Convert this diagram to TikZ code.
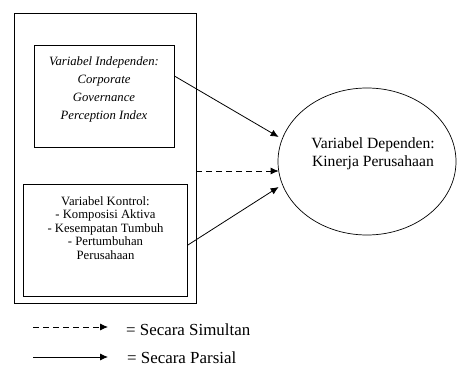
\documentclass[tikz,border=0pt]{standalone}
\usepackage{fontspec}
\setmainfont{Liberation Serif}
\usetikzlibrary{shapes,arrows.meta}
\usetikzlibrary{positioning}
\tikzstyle{frame} = [draw, rectangle, line width=0.8pt, inner sep=0pt]
\tikzstyle{target} = [draw, ellipse, line width=0.7pt, inner sep=0pt]
\tikzstyle{boxtext} = [align=center, inner sep=0pt, font=\fontsize{12.7}{13.5}\selectfont]
\tikzstyle{line} = [draw, line width=0.8pt, -{Latex[length=8pt,width=7pt]}]
\tikzstyle{dashline} = [line, dash pattern=on 6pt off 4pt]
\tikzstyle{legend} = [inner sep=0pt, font=\fontsize{16.9}{18}\selectfont]

\begin{document}
\begin{tikzpicture}[x=1pt, y=-1pt]
\useasboundingbox (0,0) rectangle (457,366);
% Blocks
\node [frame, minimum width=182pt, minimum height=290pt] (group) at (105,158) {};
\node [frame, minimum width=140pt, minimum height=102pt] (indep) at (104,96) {};
\node [frame, minimum width=164pt, minimum height=112pt] (control) at (105.5,240) {};
\node [target, minimum width=178pt, minimum height=147pt] (dep) at (367,161.5) {};

% Texts
\node [boxtext, below=11.5pt of indep.north, font=\itshape\fontsize{12.7}{18}\selectfont] (indeptext) {Variabel Independen:\\ Corporate\\ Governance\\ Perception Index};
\node [boxtext, below=12.7pt of control.north] (controltext) {Variabel Kontrol:\\ - Komposisi Aktiva\\ - Kesempatan Tumbuh\\ - Pertumbuhan\\ Perusahaan};
\node [boxtext, below=49.5pt of dep.north, xshift=6pt, font=\fontsize{15.6}{18.5}\selectfont] (deptext) {Variabel Dependen:\\ Kinerja Perusahaan};

% Connections
\draw [line] ([yshift=20pt]indep.east) -- ([xshift=1pt,yshift=24.5pt]dep.west);
\draw [dashline] ([yshift=-13pt]group.east) -- ([xshift=1pt,yshift=-9.5pt]dep.west);
\draw [line] ([yshift=-5pt]control.east) -- ([xshift=1pt,yshift=-25.5pt]dep.west);

% Legend
\coordinate (simA) at (33,327);
\coordinate (simB) at (108,327);
\coordinate (parA) at (33,357);
\coordinate (parB) at (108,357);
\draw [dashline] (simA) -- (simB);
\draw [line] (parA) -- (parB);
\node [legend, right=18pt of simB, yshift=-2.5pt] (simtext) {= Secara Simultan};
\node [legend, right=19pt of parB, yshift=-0.5pt] (partext) {= Secara Parsial};
\end{tikzpicture}
\end{document}
